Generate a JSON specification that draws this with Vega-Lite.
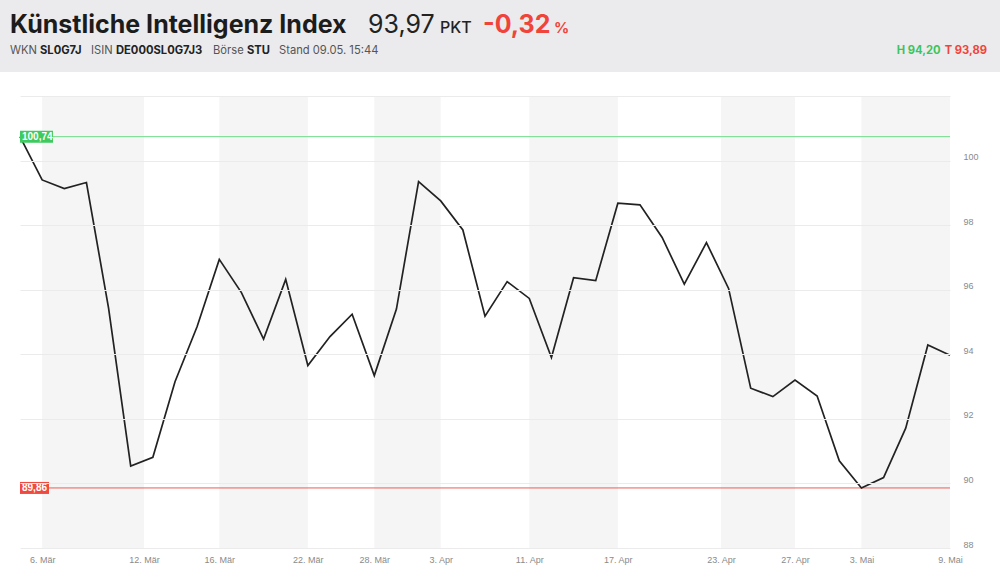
{
  "$schema": "https://vega.github.io/schema/vega-lite/v6.json",
  "width": 930,
  "height": 452,
  "autosize": {"type": "none"},
  "padding": {"left": 20, "top": 96, "right": 50, "bottom": 27},
  "background": "#ffffff",
  "config": {"view": {"stroke": null}, "font": "Inter"},
  "datasets": {
    "kurs": [
      {"i": 0, "v": 100.74}, {"i": 1, "v": 99.40}, {"i": 2, "v": 99.13}, {"i": 3, "v": 99.32},
      {"i": 4, "v": 95.43}, {"i": 5, "v": 90.54}, {"i": 6, "v": 90.81}, {"i": 7, "v": 93.15},
      {"i": 8, "v": 94.86}, {"i": 9, "v": 96.94}, {"i": 10, "v": 95.91}, {"i": 11, "v": 94.47},
      {"i": 12, "v": 96.32}, {"i": 13, "v": 93.65}, {"i": 14, "v": 94.55}, {"i": 15, "v": 95.24},
      {"i": 16, "v": 93.34}, {"i": 17, "v": 95.40}, {"i": 18, "v": 99.35}, {"i": 19, "v": 98.75},
      {"i": 20, "v": 97.85}, {"i": 21, "v": 95.18}, {"i": 22, "v": 96.25}, {"i": 23, "v": 95.73},
      {"i": 24, "v": 93.90}, {"i": 25, "v": 96.37}, {"i": 26, "v": 96.28}, {"i": 27, "v": 98.68},
      {"i": 28, "v": 98.63}, {"i": 29, "v": 97.62}, {"i": 30, "v": 96.17}, {"i": 31, "v": 97.46},
      {"i": 32, "v": 96.04}, {"i": 33, "v": 92.95}, {"i": 34, "v": 92.69}, {"i": 35, "v": 93.20},
      {"i": 36, "v": 92.71}, {"i": 37, "v": 90.70}, {"i": 38, "v": 89.86}, {"i": 39, "v": 90.18},
      {"i": 40, "v": 91.71}, {"i": 41, "v": 94.29}, {"i": 42, "v": 93.97}
    ],
    "extreme": [
      {"kind": "Hoch", "v": 100.74, "label": "100,74"},
      {"kind": "Tief", "v": 89.86, "label": "89,86"}
    ],
    "baender": [
      {"von": 1, "bis": 5.6}, {"von": 9, "bis": 13}, {"von": 16, "bis": 19},
      {"von": 23, "bis": 27}, {"von": 31.66, "bis": 35}, {"von": 38, "bis": 42}
    ]
  },
  "layer": [
    {
      "data": {"values": [{}]},
      "mark": {"type": "rect", "x": -20, "x2": 980, "y": -96, "y2": -24, "fill": "#ebebee"},
      "encoding": {}
    },
    {
      "data": {"values": [{}]},
      "mark": {"type": "text", "text": "Künstliche Intelligenz Index", "x": -10, "y": -63, "align": "left", "baseline": "alphabetic", "fontSize": 25, "fontWeight": 700, "fill": "#1c1c1c", "font": "Inter"},
      "encoding": {}
    },
    {
      "data": {"values": [{}]},
      "mark": {"type": "text", "text": "93,97", "x": 348, "y": -63, "align": "left", "baseline": "alphabetic", "fontSize": 25, "fontWeight": 400, "fill": "#222222", "font": "Inter"},
      "encoding": {}
    },
    {
      "data": {"values": [{}]},
      "mark": {"type": "text", "text": "PKT", "x": 420, "y": -63, "align": "left", "baseline": "alphabetic", "fontSize": 16, "fontWeight": 500, "fill": "#222222", "font": "Inter"},
      "encoding": {}
    },
    {
      "data": {"values": [{}]},
      "mark": {"type": "text", "text": "-0,32", "x": 463, "y": -63, "align": "left", "baseline": "alphabetic", "fontSize": 25, "fontWeight": 700, "fill": "#f0443a", "font": "Inter"},
      "encoding": {}
    },
    {
      "data": {"values": [{}]},
      "mark": {"type": "text", "text": "%", "x": 534, "y": -63, "align": "left", "baseline": "alphabetic", "fontSize": 15, "fontWeight": 700, "fill": "#f0443a", "font": "Inter"},
      "encoding": {}
    },
    {
      "data": {"values": [{}]},
      "mark": {"type": "text", "text": "WKN", "x": -10, "y": -42, "align": "left", "baseline": "alphabetic", "fontSize": 11.2, "fill": "#555555", "font": "Inter"},
      "encoding": {}
    },
    {
      "data": {"values": [{}]},
      "mark": {"type": "text", "text": "SL0G7J", "x": 20, "y": -42, "align": "left", "baseline": "alphabetic", "fontSize": 11.2, "fontWeight": 700, "fill": "#222222", "font": "Inter"},
      "encoding": {}
    },
    {
      "data": {"values": [{}]},
      "mark": {"type": "text", "text": "ISIN", "x": 71, "y": -42, "align": "left", "baseline": "alphabetic", "fontSize": 11.2, "fill": "#555555", "font": "Inter"},
      "encoding": {}
    },
    {
      "data": {"values": [{}]},
      "mark": {"type": "text", "text": "DE000SL0G7J3", "x": 96, "y": -42, "align": "left", "baseline": "alphabetic", "fontSize": 11.2, "fontWeight": 700, "fill": "#222222", "font": "Inter"},
      "encoding": {}
    },
    {
      "data": {"values": [{}]},
      "mark": {"type": "text", "text": "Börse", "x": 193, "y": -42, "align": "left", "baseline": "alphabetic", "fontSize": 11.2, "fill": "#555555", "font": "Inter"},
      "encoding": {}
    },
    {
      "data": {"values": [{}]},
      "mark": {"type": "text", "text": "STU", "x": 227, "y": -42, "align": "left", "baseline": "alphabetic", "fontSize": 11.2, "fontWeight": 700, "fill": "#222222", "font": "Inter"},
      "encoding": {}
    },
    {
      "data": {"values": [{}]},
      "mark": {"type": "text", "text": "Stand 09.05. 15:44", "x": 259, "y": -42, "align": "left", "baseline": "alphabetic", "fontSize": 11.2, "fill": "#555555", "font": "Inter"},
      "encoding": {}
    },
    {
      "data": {"values": [{}]},
      "mark": {"type": "text", "text": "H 94,20", "x": 920.5, "y": -42, "align": "right", "baseline": "alphabetic", "fontSize": 11.2, "fontWeight": 700, "fill": "#3cc45e", "font": "Inter"},
      "encoding": {}
    },
    {
      "data": {"values": [{}]},
      "mark": {"type": "text", "text": "T 93,89", "x": 967, "y": -42, "align": "right", "baseline": "alphabetic", "fontSize": 11.2, "fontWeight": 700, "fill": "#f0443a", "font": "Inter"},
      "encoding": {}
    },
    {
      "data": {"name": "baender"},
      "mark": {"type": "rect", "fill": "#f5f5f5"},
      "encoding": {
        "x": {"field": "von", "type": "quantitative"},
        "x2": {"field": "bis"},
        "y": {"datum": 102, "type": "quantitative"},
        "y2": {"datum": 88}
      }
    },
    {
      "data": {"name": "extreme"},
      "mark": {"type": "rule", "strokeWidth": 1},
      "encoding": {
        "y": {"field": "v", "type": "quantitative"},
        "color": {"field": "kind", "type": "nominal", "scale": {"domain": ["Hoch", "Tief"], "range": ["#6fd98a", "#ec5b52"]}, "legend": null}
      }
    },
    {
      "data": {"name": "kurs"},
      "mark": {"type": "line", "color": "#222222", "strokeWidth": 1.7},
      "encoding": {
        "x": {"field": "i", "type": "quantitative", "title": null,
          "scale": {"domain": [0, 42], "nice": false, "zero": false},
          "axis": {"values": [1, 5.6, 9, 13, 16, 19, 23, 27, 31.66, 35, 38, 42],
            "labelExpr": "['6. Mär','12. Mär','16. Mär','22. Mär','28. Mär','3. Apr','11. Apr','17. Apr','23. Apr','27. Apr','3. Mai','9. Mai'][indexof([1,5.6,9,13,16,19,23,27,31.66,35,38,42], datum.value)]",
            "domain": false, "ticks": false, "grid": false, "labelPadding": 7, "labelFont": "Liberation Sans", "labelFontSize": 9, "labelColor": "#8a8a8a", "labelFlush": false, "labelOverlap": false}},
        "y": {"field": "v", "type": "quantitative", "title": null,
          "scale": {"domain": [88, 102], "nice": false, "zero": false},
          "axis": {"orient": "right", "values": [88, 90, 92, 94, 96, 98, 100, 102],
            "labelExpr": "datum.value > 101 ? '' : datum.label",
            "domain": false, "ticks": false, "grid": true, "gridColor": "#ebebeb", "gridWidth": 1, "zindex": 1,
            "labelPadding": 13, "labelBaseline": "alphabetic", "labelOffset": -1, "labelFont": "Liberation Sans", "labelFontSize": 9, "labelColor": "#8a8a8a", "labelFlush": false, "labelOverlap": false}}
      }
    },
    {
      "data": {"name": "extreme"},
      "transform": [{"filter": "datum.kind == 'Hoch'"}],
      "mark": {"type": "rect", "yOffset": -6, "y2Offset": 6, "x2Offset": 33, "fill": "#3dca5f"},
      "encoding": {
        "x": {"datum": 0, "type": "quantitative"},
        "x2": {"datum": 0},
        "y": {"field": "v", "type": "quantitative"},
        "y2": {"field": "v"}
      }
    },
    {
      "data": {"name": "extreme"},
      "transform": [{"filter": "datum.kind == 'Tief'"}],
      "mark": {"type": "rect", "yOffset": -6, "y2Offset": 6, "x2Offset": 29, "fill": "#f04a40"},
      "encoding": {
        "x": {"datum": 0, "type": "quantitative"},
        "x2": {"datum": 0},
        "y": {"field": "v", "type": "quantitative"},
        "y2": {"field": "v"}
      }
    },
    {
      "data": {"name": "extreme"},
      "mark": {"type": "text", "align": "left", "baseline": "middle", "dx": 2, "fontSize": 10, "fontWeight": "bold", "font": "Liberation Sans", "fill": "#ffffff"},
      "encoding": {
        "x": {"datum": 0, "type": "quantitative"},
        "y": {"field": "v", "type": "quantitative"},
        "text": {"field": "label"}
      }
    }
  ]
}
